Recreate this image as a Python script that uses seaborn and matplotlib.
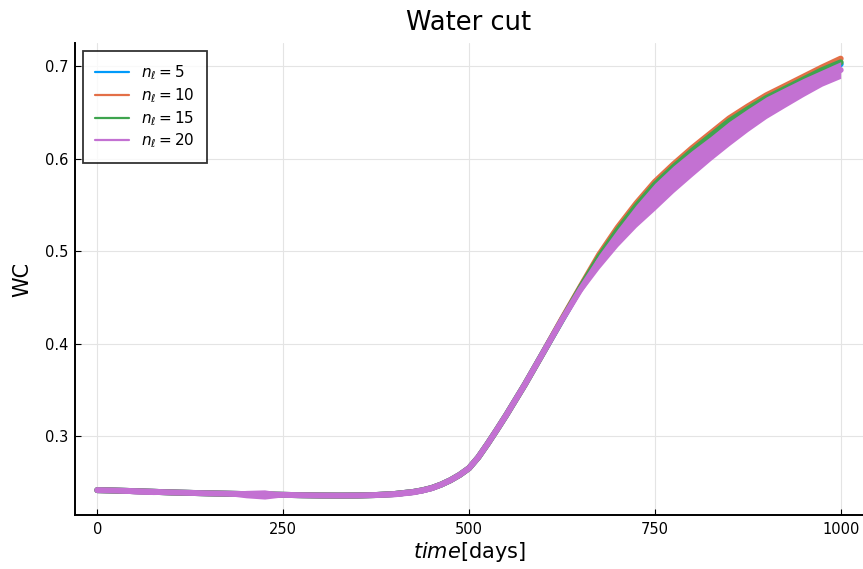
import matplotlib
matplotlib.use("Agg")
import matplotlib.pyplot as plt
import numpy as np
import pandas as pd
import seaborn as sns

# Simulation output times (days); denser reports around breakthrough
days = [0, 25, 50, 75, 100, 125, 150, 175, 200, 225, 250, 275, 300, 325, 350, 375,
        400, 425, 437.5, 450, 462.5, 475, 487.5, 500, 512.5, 525, 537.5, 550,
        575, 600, 625, 650, 675, 700, 725, 750, 775, 800, 825, 850, 875, 900,
        925, 950, 975, 1000]

# Common early-time water cut (identical for all layer counts up to day 600)
wc_early = [0.2415, 0.2410, 0.2404, 0.2397, 0.2390, 0.2385, 0.2380, 0.2376, 0.2372, 0.2368,
            0.2364, 0.2360, 0.2357, 0.2356, 0.2357, 0.2362, 0.2373, 0.2395, 0.2413, 0.2438,
            0.2475, 0.2522, 0.2580, 0.2652, 0.2770, 0.2915, 0.3068, 0.3225, 0.3555, 0.3905]

# Water cut from day 625 onwards for each number of layers n_l
wc_n5_late = [0.4255, 0.4600, 0.4940, 0.5220, 0.5480, 0.5712, 0.5900, 0.6066, 0.6218,
              0.6380, 0.6517, 0.6647, 0.6748, 0.6847, 0.6937, 0.7020]
wc_n10_late = [0.4265, 0.4615, 0.4960, 0.5255, 0.5515, 0.5748, 0.5937, 0.6112, 0.6273,
               0.6434, 0.6563, 0.6684, 0.6784, 0.6885, 0.6986, 0.7080]
wc_n15_late = [0.4255, 0.4605, 0.4935, 0.5225, 0.5485, 0.5718, 0.5907, 0.6082, 0.6243,
               0.6404, 0.6533, 0.6654, 0.6754, 0.6855, 0.6956, 0.7040]
wc_n20_late = [0.4255, 0.4585, 0.4890, 0.5145, 0.5380, 0.5588, 0.5777, 0.5947, 0.6109,
               0.6270, 0.6415, 0.6550, 0.6661, 0.6770, 0.6870, 0.6957]

# Oscillation envelope of the n_l = 20 run (upper / lower extent)
wc_n20_hi = [0.2435, 0.2430, 0.2434, 0.2427, 0.2410, 0.2405, 0.2400, 0.2396, 0.2412, 0.2418,
             0.2386, 0.2380, 0.2377, 0.2376, 0.2377, 0.2385, 0.2403, 0.2425, 0.2441, 0.2466,
             0.2500, 0.2545, 0.2602, 0.2672, 0.2790, 0.2935, 0.3088, 0.3245, 0.3578, 0.3932,
             0.4295, 0.4625, 0.4965, 0.5240, 0.5500, 0.5732, 0.5921, 0.6086, 0.6238, 0.6400,
             0.6537, 0.6667, 0.6768, 0.6867, 0.6957, 0.7047]
wc_n20_lo = [0.2395, 0.2390, 0.2374, 0.2367, 0.2370, 0.2365, 0.2360, 0.2356, 0.2332, 0.2318,
             0.2342, 0.2340, 0.2337, 0.2336, 0.2337, 0.2339, 0.2343, 0.2365, 0.2385, 0.2410,
             0.2450, 0.2499, 0.2558, 0.2632, 0.2750, 0.2895, 0.3048, 0.3205, 0.3532, 0.3878,
             0.4220, 0.4545, 0.4810, 0.5050, 0.5260, 0.5443, 0.5633, 0.5808, 0.5979, 0.6140,
             0.6293, 0.6434, 0.6554, 0.6672, 0.6783, 0.6867]

labels = [r"$n_\ell = 5$", r"$n_\ell = 10$", r"$n_\ell = 15$", r"$n_\ell = 20$"]
colors = ["#009AFA", "#E36F47", "#3EA44E", "#C371D2"]
x_ticks = [0, 250, 500, 750, 1000]
y_ticks = [0.3, 0.4, 0.5, 0.6, 0.7]

series = [wc_early + late for late in (wc_n5_late, wc_n10_late, wc_n15_late, wc_n20_late)]
df = pd.concat(
    [pd.DataFrame({"day": days, "wc": vals, "run": lab}) for vals, lab in zip(series, labels)],
    ignore_index=True,
)

sns.set_theme(style="white")
plt.rcParams["font.family"] = ["DejaVu Sans"]
plt.rcParams["mathtext.fontset"] = "dejavusans"
for key in ["text.color", "axes.labelcolor", "xtick.color", "ytick.color"]:
    plt.rcParams[key] = "black"

fig = plt.figure(figsize=(8.63, 5.69), dpi=100)
ax = fig.add_axes([75 / 863, 54 / 569, 788 / 863, 472 / 569])

sns.lineplot(data=df, x="day", y="wc", hue="run", hue_order=labels,
             palette=colors, linewidth=4.3, ax=ax, legend=True,
             solid_capstyle="round", solid_joinstyle="round")
ax.fill_between(days, wc_n20_lo, wc_n20_hi, color=colors[3], linewidth=0, zorder=3)

ax.set_xlim(-30, 1030)
ax.set_ylim(0.2146, 0.7249)
ax.set_xticks(x_ticks)
ax.set_xticklabels([str(v) for v in x_ticks])
ax.set_yticks(y_ticks)
ax.set_yticklabels([f"{v:.1f}" for v in y_ticks])

ax.grid(True, color="#e4e4e4", linewidth=0.8)
ax.set_axisbelow(True)
for side in ["top", "right"]:
    ax.spines[side].set_visible(False)
for side in ["left", "bottom"]:
    ax.spines[side].set_color("black")
    ax.spines[side].set_linewidth(1.4)
ax.tick_params(axis="both", direction="in", length=4, width=0.8,
               labelsize=10.5, colors="black", pad=5,
               bottom=True, left=True)

ax.set_title("Water cut", fontsize=18.5, pad=9, color="black")
ax.set_xlabel(r"$time$[days]", fontsize=15, labelpad=2)
ax.set_ylabel("WC", fontsize=15, labelpad=9)

leg = ax.legend(loc="upper left", bbox_to_anchor=(0.0102, 0.983), borderaxespad=0,
                fontsize=11, frameon=True, fancybox=False, edgecolor="black",
                handlelength=2.2, borderpad=0.8, labelspacing=0.27, handletextpad=0.8)
leg.get_frame().set_linewidth(1.3)
for line in leg.get_lines():
    line.set_linewidth(1.6)

fig.savefig("out.png", dpi=100)
